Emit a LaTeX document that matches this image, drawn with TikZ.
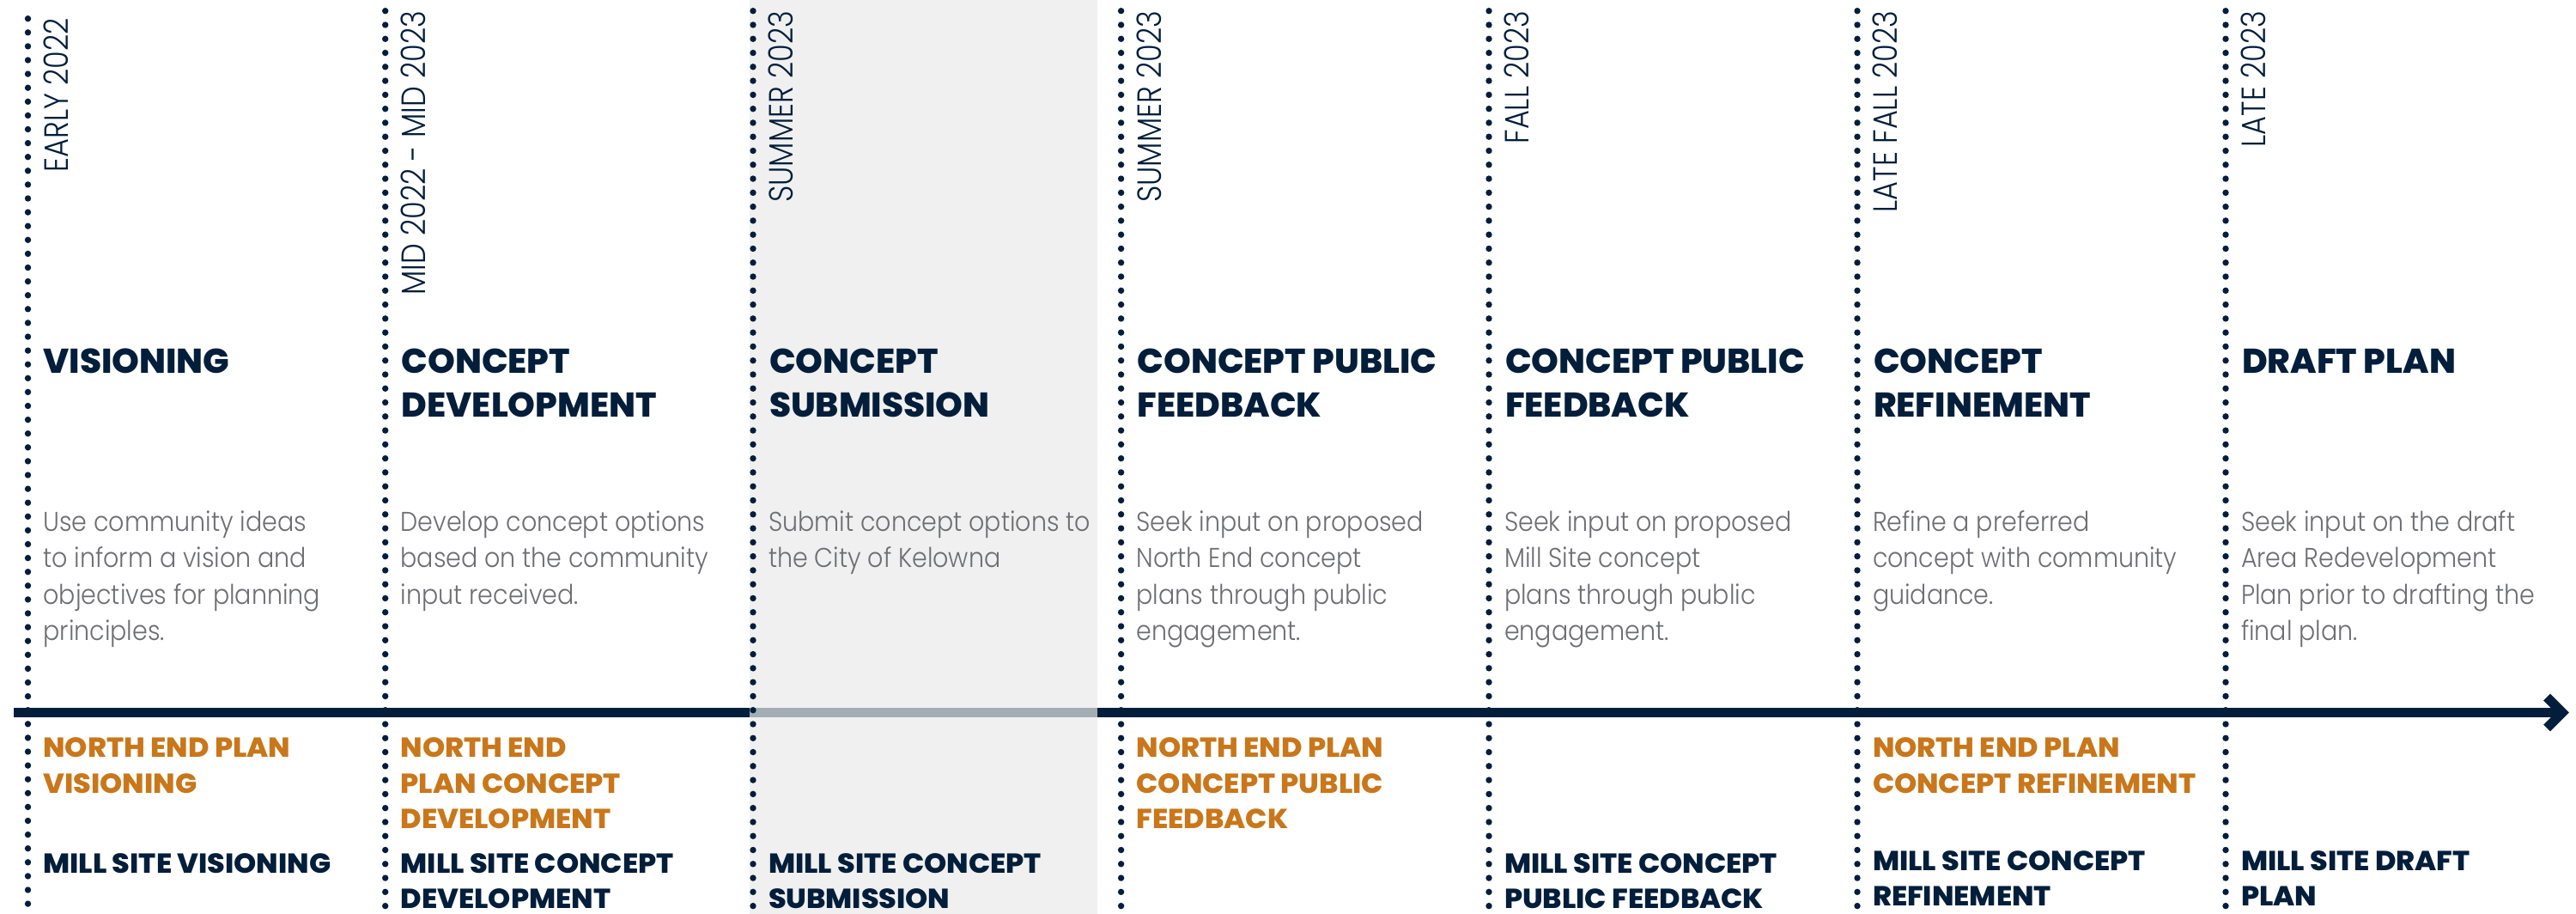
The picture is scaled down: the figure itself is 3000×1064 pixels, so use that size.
\documentclass[tikz,border=0pt]{standalone}
\usepackage{fontspec}
\usepackage{graphicx}
\usetikzlibrary{calc}

\newfontfamily\lightfam{Poppins Light}
\newfontfamily\boldfam{Poppins ExtraBold}

\definecolor{navy}{RGB}{2,30,58}
\definecolor{amber}{RGB}{201,119,26}
\definecolor{bodygray}{RGB}{109,110,114}
\definecolor{bandfill}{RGB}{239,240,239}
\definecolor{bandline}{RGB}{164,172,180}

% type sizes (1 px of the layout grid = 0.5pt)
\newcommand\datesize{\lightfam\fontsize{19.6pt}{24pt}\selectfont}
\newcommand\headsize{\boldfam\fontsize{20pt}{25.35pt}\selectfont}
\newcommand\bodysize{\lightfam\fontsize{15.8pt}{21.2pt}\selectfont}
\newcommand\tagsize{\boldfam\fontsize{16pt}{20.75pt}\selectfont}

% horizontal set width of each text style, fitted to a run of sample lines
\newlength\calw
\newcommand\calib[3]{\settowidth\calw{#2}\pgfmathsetmacro#1{#3/\calw}}
\AtBeginDocument{%
  \calib\datesx{\datesize MID 2022 - MID 2023FALL 2023EARLY 2022LATE 2023SUMMER 2023LATE FALL 2023}{640.5}%
  \calib\headsx{\headsize VISIONINGDEVELOPMENTCONCEPT PUBLICDRAFT PLAN}{556}%
  \calib\bodysx{\bodysize Use community ideasDevelop concept optionsPlan prior to drafting theSubmit concept options to}{689.25}%
  \calib\tagsx{\tagsize NORTH END PLANMILL SITE VISIONINGCONCEPT REFINEMENTMILL SITE CONCEPT}{658.3}%
}

% a left-aligned block of lines, squeezed horizontally by #2
\newcommand\txtblock[3]{\scalebox{#2}[1]{#1\begin{tabular}[t]{@{}l@{}}#3\end{tabular}}}
\newcommand\datetxt[1]{\scalebox{\datesx}[1]{\datesize #1}}
\newcommand\headtxt[1]{\txtblock{\headsize}{\headsx}{#1}}
\newcommand\bodytxt[1]{\txtblock{\bodysize}{\bodysx}{#1}}
\newcommand\tagtxt[1]{\txtblock{\tagsize}{\tagsx}{#1}}

\begin{document}
\begin{tikzpicture}[x=0.5pt,y=-0.5pt,
  lbl/.style={inner sep=0pt, outer sep=0pt, anchor=base west},
  datelbl/.style={inner sep=0pt, outer sep=0pt, rotate=90, anchor=base east, text=navy},
  headlbl/.style={lbl, text=navy},
  bodylbl/.style={lbl, text=bodygray},
  nelbl/.style={lbl, text=amber},
  mslbl/.style={lbl, text=navy},
  timeline/.style={draw=navy, line width=5.5pt},
  arrowhead/.style={draw=navy, line width=5.5pt, line join=miter, line cap=butt},
  dot/.style={fill=navy}]

\useasboundingbox (0,0) rectangle (3000,1064);
\fill[white] (0,0) rectangle (3000,1064);
\clip (0,0) rectangle (3000,1064);

% shaded phase (concept submission)
\fill[bandfill] (872.7,0) rectangle (1277.7,1064);

% time axis
\coordinate (tstart) at (16,829.5);
\coordinate (tend) at (2984,829.5);
\draw[timeline] (tstart) -- (tend);
\fill[bandline] (872.7,824) rectangle (1277.7,835);
\draw[arrowhead] ($(tend)+(-18,-18)$) -- (tend) -- ($(tend)+(-18,18)$);

% dotted phase dividers
\foreach \cx/\ys/\st in {32.5/21.7/16.1, 448.7/12.7/16.28, 877/12.7/16.28,
    1305.6/12.7/16.28, 1734/12.7/16.28, 2163/12.7/16.28, 2592/12.7/16.28}{
  \foreach \k in {0,...,66}{
    \fill[dot] (\cx,\ys+\k*\st) circle[radius=1.85pt];
  }
}

% ---- dates
\node[datelbl] (d1) at (79.2,21)   {\datetxt{EARLY 2022}};
\node[datelbl] (d2) at (495.4,12.7) {\datetxt{MID 2022 - MID 2023}};
\node[datelbl] (d3) at (923.7,12.7) {\datetxt{SUMMER 2023}};
\node[datelbl] (d4) at (1352.3,12.7) {\datetxt{SUMMER 2023}};
\node[datelbl] (d5) at (1780.7,12.7) {\datetxt{FALL 2023}};
\node[datelbl] (d6) at (2209.7,12.7) {\datetxt{LATE FALL 2023}};
\node[datelbl] (d7) at (2638.7,12.7) {\datetxt{LATE 2023}};

% ---- phase titles
\node[headlbl] (h1) at (50.5,435)   {\headtxt{VISIONING}};
\node[headlbl] (h2) at (467.7,435)  {\headtxt{CONCEPT\\DEVELOPMENT}};
\node[headlbl] (h3) at (896,435)    {\headtxt{CONCEPT\\SUBMISSION}};
\node[headlbl] (h4) at (1324.6,435) {\headtxt{CONCEPT PUBLIC\\FEEDBACK}};
\node[headlbl] (h5) at (1753,435)   {\headtxt{CONCEPT PUBLIC\\FEEDBACK}};
\node[headlbl] (h6) at (2182,435)   {\headtxt{CONCEPT\\REFINEMENT}};
\node[headlbl] (h7) at (2611,435)   {\headtxt{DRAFT PLAN}};

% ---- descriptions
\node[bodylbl] (b1) at (50.5,618.5)   {\bodytxt{Use community ideas\\to inform a vision and\\objectives for planning\\principles.}};
\node[bodylbl] (b2) at (466.7,618.5)  {\bodytxt{Develop concept options\\based on the community\\input received.}};
\node[bodylbl] (b3) at (895,618.5)    {\bodytxt{Submit concept options to\\the City of Kelowna}};
\node[bodylbl] (b4) at (1323.6,618.5) {\bodytxt{Seek input on proposed\\North End concept\\plans through public\\engagement.}};
\node[bodylbl] (b5) at (1752,618.5)   {\bodytxt{Seek input on proposed\\Mill Site concept\\plans through public\\engagement.}};
\node[bodylbl] (b6) at (2181,618.5)   {\bodytxt{Refine a preferred\\concept with community\\guidance.}};
\node[bodylbl] (b7) at (2610,618.5)   {\bodytxt{Seek input on the draft\\Area Redevelopment\\Plan prior to drafting the\\final plan.}};

% ---- North End plan milestones
\node[nelbl] (n1) at (50.5,881.6)   {\tagtxt{NORTH END PLAN\\VISIONING}};
\node[nelbl] (n2) at (466.7,881.6)  {\tagtxt{NORTH END\\PLAN CONCEPT\\DEVELOPMENT}};
\node[nelbl] (n4) at (1323.6,881.6) {\tagtxt{NORTH END PLAN\\CONCEPT PUBLIC\\FEEDBACK}};
\node[nelbl] (n6) at (2181,881.6)   {\tagtxt{NORTH END PLAN\\CONCEPT REFINEMENT}};

% ---- Mill Site milestones
\node[mslbl] (m1) at (50.5,1016)   {\tagtxt{MILL SITE VISIONING}};
\node[mslbl] (m2) at (466.7,1016)  {\tagtxt{MILL SITE CONCEPT\\DEVELOPMENT}};
\node[mslbl] (m3) at (895,1016)    {\tagtxt{MILL SITE CONCEPT\\SUBMISSION}};
\node[mslbl] (m5) at (1752,1016)   {\tagtxt{MILL SITE CONCEPT\\PUBLIC FEEDBACK}};
\node[mslbl] (m6) at (2181,1013)   {\tagtxt{MILL SITE CONCEPT\\REFINEMENT}};
\node[mslbl] (m7) at (2610,1013)   {\tagtxt{MILL SITE DRAFT\\PLAN}};

\end{tikzpicture}
\end{document}
